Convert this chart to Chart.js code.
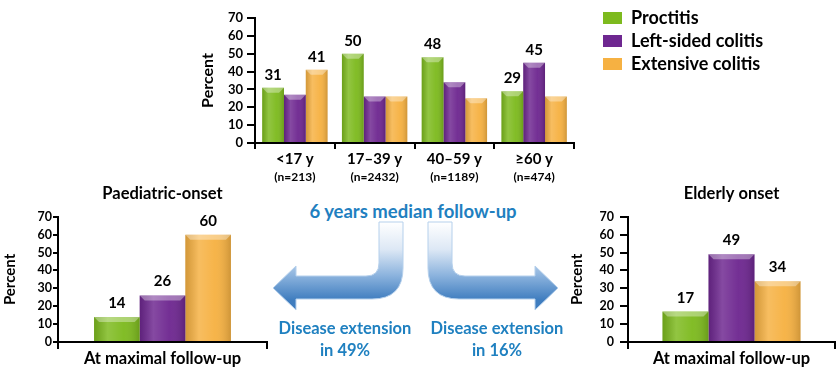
<!DOCTYPE html>
<html lang="en">
<head>
<meta charset="UTF-8">
<title>Disease extent by age at onset</title>
<script src="https://cdn.jsdelivr.net/npm/chart.js"></script>
<style>
    body {
        margin: 0;
        width: 839px;
        height: 373px;
        position: relative;
        overflow: hidden;
        background: #fff;
        font-family: Lato, sans-serif;
    }
    canvas, svg, .note {
        position: absolute;
    }
    .note {
        color: #1f80c0;
        font-weight: bold;
        text-align: center;
    }
</style>
</head>
<body>
<svg width="839" height="373" style="left:0;top:0">
    <defs>
        <linearGradient id="arrowFill" gradientUnits="userSpaceOnUse" x1="0" y1="222" x2="0" y2="300">
            <stop offset="0" stop-color="#ffffff"/>
            <stop offset="0.35" stop-color="#dde8f5"/>
            <stop offset="0.68" stop-color="#8db4de"/>
            <stop offset="1" stop-color="#3f7dbf"/>
        </linearGradient>
    </defs>
    <path d="M379,222 H403 V268 Q403,299 372,299 H296 V310 L273,288 L296,266 V276 H366 Q379,276 379,263 Z"
          fill="url(#arrowFill)" stroke="#b5d0ec" stroke-width="1"/>
    <path d="M452,222 H428 V268 Q428,299 459,299 H535 V310 L558,288 L535,266 V276 H465 Q452,276 452,263 Z"
          fill="url(#arrowFill)" stroke="#b5d0ec" stroke-width="1"/>
</svg>

<canvas id="topChart" width="644" height="190" style="left:195px;top:0"></canvas>
<canvas id="paedChart" width="275" height="190" style="left:0;top:183px"></canvas>
<canvas id="elderChart" width="279" height="190" style="left:560px;top:183px"></canvas>

<div class="note" style="left:283px;top:200px;width:260px;font-size:18.5px;line-height:22px">6 years median follow-up</div>
<div class="note" style="left:265px;top:317px;width:160px;font-size:16.5px;line-height:22px">Disease extension<br>in 49%</div>
<div class="note" style="left:417px;top:317px;width:160px;font-size:16.5px;line-height:22px">Disease extension<br>in 16%</div>

<script>
    // --- data ---
    const seriesNames = ['Proctitis', 'Left-sided colitis', 'Extensive colitis'];

    const ageGroups = ['<17 y', '17–39 y', '40–59 y', '≥60 y'];
    const groupSizes = ['(n=213)', '(n=2432)', '(n=1189)', '(n=474)'];
    const proctitis = [31, 50, 48, 29];
    const leftSided = [27, 26, 34, 45];
    const extensive = [41, 26, 25, 26];
    // which bars carry a printed value
    const proctitisShown = [true, true, true, true];
    const leftSidedShown = [false, false, false, true];
    const extensiveShown = [true, false, false, false];

    const followUpLabel = ['At maximal follow-up'];
    const paediatric = [14, 26, 60];
    const elderly = [17, 49, 34];

    // --- styles ---
    const fills = ['#7dba1e', '#6e2790', '#f6b142'];

    Chart.defaults.font.family = 'Lato, sans-serif';
    Chart.defaults.color = '#000';
    Chart.defaults.animation = false;

    // soft bevel over every bar, like the office-style 3D bars
    const barShade = {
        id: 'barShade',
        afterDatasetsDraw(chart) {
            const ctx = chart.ctx;
            ctx.save();
            chart.data.datasets.forEach((ds, i) => {
                chart.getDatasetMeta(i).data.forEach(bar => {
                    const l = bar.x - bar.width / 2, r = bar.x + bar.width / 2;
                    const t = bar.y, b = bar.base;
                    const g = ctx.createLinearGradient(l, 0, r, 0);
                    g.addColorStop(0, 'rgba(0,0,0,0.14)');
                    g.addColorStop(0.3, 'rgba(255,255,255,0.16)');
                    g.addColorStop(0.65, 'rgba(255,255,255,0.04)');
                    g.addColorStop(1, 'rgba(0,0,0,0.16)');
                    ctx.fillStyle = g;
                    ctx.fillRect(l, t, r - l, b - t);
                    const d = Math.min(5, (b - t) / 2);
                    ctx.beginPath();
                    ctx.moveTo(l, t);
                    ctx.lineTo(r, t);
                    ctx.lineTo(r - d, t + d);
                    ctx.lineTo(l + d, t + d);
                    ctx.closePath();
                    ctx.fillStyle = 'rgba(255,255,255,0.35)';
                    ctx.fill();
                });
            });
            ctx.restore();
        }
    };

    const valueLabels = {
        id: 'valueLabels',
        afterDatasetsDraw(chart, args, opts) {
            const ctx = chart.ctx;
            ctx.save();
            ctx.font = 'bold ' + opts.size + 'px Lato, sans-serif';
            ctx.fillStyle = '#000';
            ctx.textAlign = 'center';
            ctx.textBaseline = 'alphabetic';
            chart.data.datasets.forEach((ds, i) => {
                chart.getDatasetMeta(i).data.forEach((bar, j) => {
                    if (ds.shown && !ds.shown[j]) return;
                    ctx.fillText(ds.data[j], bar.x, bar.y - opts.gap);
                });
            });
            ctx.restore();
        }
    };

    const subLabels = {
        id: 'subLabels',
        afterDraw(chart, args, opts) {
            if (!opts.lines) return;
            const ctx = chart.ctx;
            const xs = chart.scales.x;
            ctx.save();
            ctx.font = 'bold 12px Lato, sans-serif';
            ctx.fillStyle = '#000';
            ctx.textAlign = 'center';
            ctx.textBaseline = 'middle';
            opts.lines.forEach((t, i) => ctx.fillText(t, xs.getPixelForTick(i), opts.y));
            ctx.restore();
        }
    };

    function barSet(i, data, shown) {
        return {
            label: seriesNames[i],
            data: data,
            shown: shown,
            backgroundColor: fills[i],
            borderWidth: 0
        };
    }

    // top chart
    const topChart = new Chart(document.getElementById('topChart'), {
        type: 'bar',
        data: {
            labels: ageGroups,
            datasets: [
                barSet(0, proctitis, proctitisShown),
                barSet(1, leftSided, leftSidedShown),
                barSet(2, extensive, extensiveShown)
            ]
        },
        options: {
            responsive: false,
            categoryPercentage: 0.82,
            barPercentage: 1,
            layout: { padding: { top: 4, right: 0 } },
            plugins: {
                title: { display: true, text: '', fullSize: false, padding: 0, font: { size: 10, lineHeight: 1.4 } },
                legend: {
                    position: 'right',
                    align: 'start',
                    maxWidth: 320,
                    labels: {
                        boxWidth: 19,
                        boxHeight: 12,
                        padding: 5,
                        font: { size: 18, weight: 'bold' },
                        color: '#000'
                    }
                },
                tooltip: { enabled: false },
                valueLabels: { size: 15, gap: 8 },
                subLabels: { lines: groupSizes, y: 177 }
            },
            scales: {
                x: {
                    grid: { drawOnChartArea: false, tickLength: 6, color: '#000', lineWidth: 2 },
                    border: { color: '#000', width: 2 },
                    ticks: { font: { size: 15, weight: 'bold' }, padding: 1 },
                    afterFit: s => { s.height = 47; }
                },
                y: {
                    min: 0,
                    max: 70,
                    ticks: { stepSize: 10, autoSkip: false, font: { size: 13, weight: 'bold' }, padding: 4 },
                    grid: { drawOnChartArea: false, tickLength: 8, color: '#000', lineWidth: 2 },
                    border: { color: '#000', width: 2 },
                    title: { display: true, text: 'Percent', font: { size: 16, weight: 'bold' }, padding: { top: 3, bottom: 0 } },
                    afterFit: s => { s.width = 60; }
                },
                spacer: {
                    type: 'linear',
                    axis: 'y',
                    position: 'right',
                    grid: { display: false },
                    ticks: { display: false },
                    border: { display: false },
                    afterFit: s => { s.width = 24; }
                }
            }
        },
        plugins: [barShade, valueLabels, subLabels]
    });

    // slide the legend so its swatches start at page x 603 (canvas x 408)
    const legendShift = topChart.legend.left + 5 - 408;
    topChart.options.layout.padding.right += legendShift;
    topChart.update();

    function onsetChart(id, title, values, opt) {
        return new Chart(document.getElementById(id), {
            type: 'bar',
            data: {
                labels: followUpLabel,
                datasets: values.map((v, i) => barSet(i, [v], null))
            },
            options: {
                responsive: false,
                categoryPercentage: opt.catPct,
                barPercentage: 1,
                layout: { padding: { right: opt.right } },
                plugins: {
                    title: {
                        display: true,
                        text: title,
                        fullSize: false,
                        font: { size: 16.5, weight: 'bold' },
                        padding: { top: 1, bottom: 13 }
                    },
                    legend: { display: false },
                    tooltip: { enabled: false },
                    valueLabels: { size: 15, gap: 9 }
                },
                scales: {
                    x: {
                        grid: { drawOnChartArea: false, tickLength: 7, color: '#000', lineWidth: 2 },
                        border: { color: '#000', width: 2 },
                        ticks: { font: { size: 16.5, weight: 'bold' }, padding: 0 },
                        afterFit: s => { s.height = 31; }
                    },
                    y: {
                        min: 0,
                        max: 70,
                        ticks: { stepSize: 10, autoSkip: false, font: { size: 12.5, weight: 'bold' }, padding: opt.tickPad },
                        grid: { drawOnChartArea: false, tickLength: opt.tickLen, color: '#000', lineWidth: 2 },
                        border: { color: '#000', width: 2 },
                        title: { display: true, text: 'Percent', font: { size: 15, weight: 'bold' }, padding: { top: opt.titlePad, bottom: 0 } },
                        afterFit: s => { s.width = opt.yWidth; }
                    }
                }
            },
            plugins: [barShade, valueLabels]
        });
    }

    onsetChart('paedChart', 'Paediatric-onset', paediatric,
        { catPct: 0.655, right: 8, yWidth: 58, tickLen: 5, tickPad: 1, titlePad: 1 });
    onsetChart('elderChart', 'Elderly onset', elderly,
        { catPct: 0.667, right: 4, yWidth: 68, tickLen: 8, tickPad: 6, titlePad: 8 });
</script>
</body>
</html>
